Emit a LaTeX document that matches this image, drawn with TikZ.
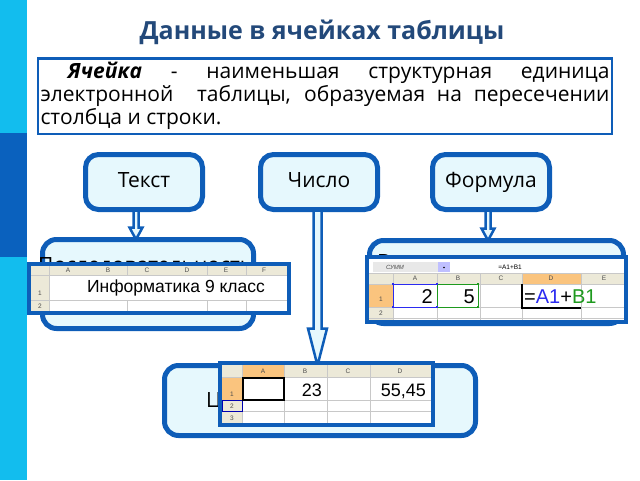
\documentclass[tikz,border=0pt]{standalone}
\usepackage{fontspec}
\setmainfont{Open Sans}
\newfontfamily\cellfont{Liberation Sans}
\usetikzlibrary{calc}

\definecolor{stripe}{HTML}{12BDEE}
\definecolor{stripedark}{HTML}{0A61BE}
\definecolor{boxblue}{HTML}{0E5DB8}
\definecolor{boxfill}{HTML}{E6F8FD}
\definecolor{titleblue}{HTML}{23497A}
\definecolor{headbeige}{HTML}{ECE9D8}
\definecolor{headorange}{HTML}{FAC47E}
\definecolor{gridgray}{HTML}{C8C8C8}
\definecolor{refblue}{HTML}{2B2BF0}
\definecolor{refgreen}{HTML}{1E9A1E}

\newcommand{\hollowarrow}[5]{%
  \filldraw[arrowline] let \p1=(#1), \p2=(#2) in
    (\x1-#3pt,\y1) -- (\x1-#3pt,\y2+#5pt) -- (\x1-#4pt,\y2+#5pt) -- (\x1,\y2)
    -- (\x1+#4pt,\y2+#5pt) -- (\x1+#3pt,\y2+#5pt) -- (\x1+#3pt,\y1);
}

\begin{document}
\begin{tikzpicture}[x=1pt,y=-1pt,
  kind/.style={draw=boxblue, fill=boxfill, line width=5pt, rounded corners=13pt,
    minimum width=117pt, minimum height=55pt, text height=15pt, text depth=4pt,
    font=\fontsize{21}{24}\selectfont},
  group/.style={draw=boxblue, fill=boxfill, line width=5pt, rounded corners=14pt},
  shot/.style={draw=boxblue, fill=white, line width=4pt, inner sep=0pt},
  arrowline/.style={draw=boxblue, fill=boxfill, line width=2.5pt, line join=miter},
  grid/.style={gridgray, line width=0.6pt},
  colhead/.style={font=\cellfont\fontsize{6.5}{7}\selectfont, text=black!70, inner sep=0pt},
  cellnum/.style={inner sep=0pt, anchor=base east},
  hidden/.style={anchor=base west, inner sep=0pt, font=\fontsize{21}{24}\selectfont}]
\useasboundingbox (0,0) rectangle (640,480);

\fill[stripe] (0,0) rectangle (27,480);
\fill[stripedark] (0,133) rectangle (27,257);

\node[font=\fontsize{25}{28}\selectfont\bfseries, text=titleblue] (title) at (322,32)
  {Данные в ячейках таблицы};

\node[draw=boxblue, line width=2.5pt, fill=white, minimum width=574pt, minimum height=75.5pt,
  text width=569pt, inner sep=2.5pt, align=justify, font=\fontsize{21}{23}\selectfont] (def) at (325,96)
  {\hspace*{1.3em}\textbf{\textit{Ячейка}} - наименьшая структурная единица\linebreak
   электронной\ \ таблицы, образуемая на пересечении\linebreak столбца и строки.};

\node[kind] (txt) at (144,182) {Текст};
\node[kind] (num) at (319,182) {Число};
\node[kind] (frm) at (491,182) {Формула};

\coordinate (txtend) at (148,239.5);
\coordinate (frmend) at (496,240.5);
\coordinate (numend) at (320,365.5);
\hollowarrow{[xshift=-8pt]txt.south}{txtend}{2.5}{6.5}{12}
\hollowarrow{[xshift=-3pt]frm.south}{frmend}{2.5}{6.5}{12}
\hollowarrow{[xshift=-1.5pt]num.south}{numend}{4}{9.5}{37}

\node[group, minimum width=211pt, minimum height=89pt] (txtbox) at (148,284) {};
\node[group, minimum width=254pt, minimum height=83pt] (frmbox) at (496.5,282) {};
\node[group, minimum width=311pt, minimum height=70pt] (numbox) at (320,400.5) {};

\node[hidden] (txtword) at (38,272) {Последовательность};
\node[hidden] (frmword) at (377,269) {Выражение со знаком =};
\node[hidden] (numword) at (206,407) {Целое или дробное};

% text cell
\node[shot, minimum width=260pt, minimum height=49pt] (shotA) at (159,288.5) {};
\fill[headbeige] (31,266) rectangle (287,275);
\fill[headbeige] (31,266) rectangle (49,311);
\draw[grid] (31,275) -- (287,275) (31,300) -- (287,300) (49,266) -- (49,311);
\foreach \x in {127,207,246}
  \draw[grid] (\x,266) -- (\x,275) (\x,300) -- (\x,311);
\foreach \x/\l in {68/A,108/B,147/C,187/D,226/E,264/F}
  \node[colhead] at (\x,270.5) {\l};
\node[colhead] at (40,293) {1};
\node[colhead] at (40,306) {2};
\node[font=\cellfont\fontsize{17.5}{20}\selectfont, inner sep=0pt] (cellA) at (176,288)
  {Информатика 9 класс};

% formula cell
\node[shot, minimum width=259pt, minimum height=65pt] (shotB) at (496.5,289.5) {};
\fill[black!9] (373,262) rectangle (438,272);
\fill[blue!25] (438,262) rectangle (450,272);
\fill (444,267.5) circle (0.9pt);
\node[colhead, font=\cellfont\itshape\fontsize{6}{7}\selectfont] at (395,267) {СУММ};
\node[colhead, text=black] at (510,267) {=A1+B1};
\fill[headbeige] (369,273) rectangle (624,284);
\fill[headorange] (522,273) rectangle (581,284);
\fill[headbeige] (369,284) rectangle (393,320);
\fill[headorange] (369,284) rectangle (393,307);
\foreach \y in {273,284,307,318}
  \draw[grid] (369,\y) -- (624,\y);
\foreach \x in {393,437,480,522,581}
  \draw[grid] (\x,273) -- (\x,320);
\foreach \x/\l in {415/A,458/B,501/C,551/D,604/E}
  \node[colhead] at (\x,278.5) {\l};
\node[colhead] at (381,299) {1};
\node[colhead] at (381,313) {2};
\node[cellnum, font=\cellfont\fontsize{20}{22}\selectfont] (cellA1) at (433,303) {2};
\node[cellnum, font=\cellfont\fontsize{20}{22}\selectfont] (cellB1) at (475,303) {5};
\draw[refblue, line width=0.9pt] (393,284) rectangle (437,307);
\draw[refgreen, line width=0.9pt] (437,284) rectangle (478,307);
\foreach \p in {(393,284),(437,284),(393,307),(437,307)}
  \fill[refblue] \p +(-1.3,-1.3) rectangle +(1.3,1.3);
\foreach \p in {(478,284),(478,307)}
  \fill[refgreen] \p +(-1.3,-1.3) rectangle +(1.3,1.3);
\draw[line width=1.3pt] (522,284) -- (522,308) -- (581,308);
\node[anchor=base west, inner sep=0pt, font=\cellfont\fontsize{20}{22}\selectfont] (cellD1) at (524,303)
  {=\textcolor{refblue}{A1}+\textcolor{refgreen}{B1}};

% number cell
\node[shot, minimum width=213pt, minimum height=62pt] (shotC) at (326.5,394) {};
\fill[headbeige] (222,365) rectangle (431,377);
\fill[headorange] (242,365) rectangle (284,377);
\fill[headbeige] (222,377) rectangle (242,423);
\fill[headorange] (222,377) rectangle (242,400);
\foreach \y in {377,400,411}
  \draw[grid] (222,\y) -- (431,\y);
\foreach \x in {242,284,327,370}
  \draw[grid] (\x,365) -- (\x,423);
\foreach \x/\l in {263/A,305/B,348/C,400/D}
  \node[colhead] at (\x,371) {\l};
\node[colhead] at (232,394) {1};
\node[colhead] at (232,406) {2};
\node[colhead] at (232,418) {3};
\draw[blue!70!black, line width=0.6pt] (222,400) rectangle (242,411);
\draw[line width=1.8pt] (243,378) rectangle (284,400);
\node[cellnum, font=\cellfont\fontsize{18}{20}\selectfont] (cellB) at (322,396) {23};
\node[cellnum, font=\cellfont\fontsize{18}{20}\selectfont] (cellD) at (426,396) {55,45};
\end{tikzpicture}
\end{document}
